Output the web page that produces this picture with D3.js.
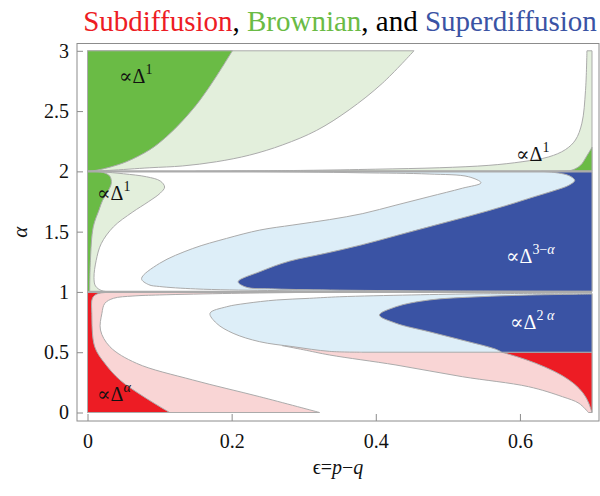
<!DOCTYPE html>
<html>
<head>
<meta charset="utf-8">
<script src="https://cdn.jsdelivr.net/npm/d3@7/dist/d3.min.js"></script>
<style>
  html, body { margin: 0; padding: 0; background: #fff; }
  svg { display: block; }
  svg text { font-family: "Liberation Serif", "DejaVu Serif", "Noto Serif", Tinos, Times, serif; }
</style>
</head>
<body>
<svg id="chart" width="600" height="496"></svg>
<script>
// ---- axis ticks ----
const xTicks = [0, 0.2, 0.4, 0.6];
const yTicks = [0, 0.5, 1, 1.5, 2, 2.5, 3];

// ---- phase boundaries, [epsilon, alpha] ----
// band 2 <= alpha <= 3
const brownTopOuter = [[0,2.0],[0.03,2.008],[0.0865,2.03],[0.132,2.045],[0.179,2.08],[0.225,2.135],[0.271,2.22],[0.318,2.34],[0.363,2.51],[0.409,2.73],[0.453,3.0]];
const brownTopInner = [[0,2.0],[0.013,2.01],[0.031,2.035],[0.054,2.08],[0.0865,2.18],[0.110,2.29],[0.132,2.42],[0.156,2.59],[0.179,2.79],[0.201,3.0]];
const brownSpikeEdge = [[0.15,2.0],[0.3,2.008],[0.4,2.018],[0.488,2.03],[0.557,2.05],[0.603,2.08],[0.640,2.12],[0.663,2.18],[0.677,2.26],[0.686,2.40],[0.691,2.67],[0.693,3.0]];
const brownSpikeCore = [[0.655,2.0],[0.672,2.01],[0.684,2.05],[0.692,2.12],[0.7,2.2]];

// band 1 <= alpha <= 2
const brownMidEdge = [[0.04,1.0],[0.02,1.01],[0.011,1.05],[0.009,1.12],[0.012,1.26],[0.019,1.40],[0.036,1.54],[0.062,1.66],[0.085,1.75],[0.101,1.82],[0.107,1.87],[0.101,1.92],[0.082,1.955],[0.05,1.98],[0.02,1.996],[0,2.0]];
const brownMidCore = [[0.003,1.0],[0.004,1.26],[0.008,1.54],[0.016,1.68],[0.021,1.76],[0.027,1.82],[0.033,1.90],[0.031,1.96],[0.022,1.99],[0.008,2.0]];
const superMidOuter = [[0.7,1.002],[0.4,1.005],[0.25,1.012],[0.15,1.025],[0.1,1.045],[0.085,1.06],[0.075,1.11],[0.1,1.237],[0.146,1.36],[0.193,1.444],[0.239,1.513],[0.285,1.555],[0.336,1.6],[0.382,1.65],[0.428,1.72],[0.474,1.79],[0.52,1.86],[0.546,1.905],[0.529,1.955],[0.474,1.978],[0.382,1.988],[0.3,1.995],[0.2,2.0]];
const superMidCore = [[0.7,1.005],[0.5,1.008],[0.35,1.015],[0.26,1.025],[0.22,1.04],[0.209,1.085],[0.24,1.17],[0.28,1.255],[0.33,1.32],[0.38,1.39],[0.43,1.47],[0.48,1.55],[0.53,1.63],[0.58,1.715],[0.62,1.79],[0.65,1.845],[0.668,1.885],[0.676,1.925],[0.668,1.965],[0.649,1.99],[0.63,2.0]];

// band 0 <= alpha <= 1
const subLeftEdge = [[0.322,0],[0.239,0.131],[0.146,0.27],[0.068,0.408],[0.031,0.546],[0.018,0.684],[0.02,0.823],[0.024,0.905],[0.036,0.947],[0.063,0.966],[0.1,0.975],[0.2,0.988],[0.3,0.996],[0.36,1.0]];
const subLeftCore = [[0.114,0],[0.078,0.131],[0.045,0.27],[0.024,0.408],[0.010,0.546],[0.006,0.823],[0.007,0.95],[0.014,0.985],[0.035,0.998],[0.04,1.0]];
const subRightEdge = [[0.27,0.555],[0.3,0.52],[0.336,0.477],[0.428,0.394],[0.52,0.297],[0.612,0.214],[0.659,0.131],[0.682,0.076],[0.695,0.0]];
const subRightCore = [[0.575,0.5],[0.6,0.455],[0.622,0.408],[0.648,0.34],[0.668,0.27],[0.682,0.2],[0.691,0.131],[0.696,0.07],[0.698,0.035],[0.7,0.0]];
const superLowOuter = [[0.7,0.99],[0.55,0.985],[0.45,0.975],[0.35,0.96],[0.308,0.947],[0.262,0.933],[0.22,0.905],[0.193,0.877],[0.17,0.823],[0.179,0.74],[0.202,0.657],[0.239,0.587],[0.285,0.546],[0.336,0.507],[0.38,0.5]];
const superLowCore = [[0.575,0.5],[0.566,0.526],[0.52,0.60],[0.474,0.67],[0.428,0.74],[0.405,0.808],[0.428,0.877],[0.474,0.933],[0.543,0.96],[0.612,0.974],[0.695,0.982],[0.7,0.982]];

// ---- colours ----
const C = {
  green: "#6abb45", greenLight: "#e3efdc",
  blue: "#3a53a4", blueLight: "#ddeef8",
  red: "#ed1c24", redLight: "#f9d5d5",
  edge: "#ababab", frame: "#8c8c8c"
};

const svg = d3.select("#chart");

const x = d3.scaleLinear().domain([0, 0.7]).range([87.5, 592]);
const y = d3.scaleLinear().domain([0, 3]).range([412.5, 50.8]);

const frame = { left: 77, right: 599, top: 43.5, bottom: 421 };

const smooth = d3.line()
  .x(d => x(d[0])).y(d => y(d[1]))
  .curve(d3.curveCatmullRom.alpha(0.5));

// boundary curve followed by straight edges back to its start
function region(boundary, corners) {
  let p = smooth(boundary);
  corners.forEach(c => { p += "L" + x(c[0]) + "," + y(c[1]); });
  return p + "Z";
}

const regions = [
  // alpha in [2,3]
  { b: brownTopOuter,  c: [[0,3]],             fill: C.greenLight },
  { b: brownSpikeEdge, c: [[0.7,3],[0.7,2]],   fill: C.greenLight },
  { b: brownTopInner,  c: [[0,3]],             fill: C.green },
  { b: brownSpikeCore, c: [[0.7,2]],           fill: C.green },
  // alpha in [1,2]
  { b: brownMidEdge,   c: [[0,1]],             fill: C.greenLight },
  { b: brownMidCore,   c: [[0,2],[0,1]],       fill: C.green },
  { b: superMidOuter,  c: [[0.7,2]],           fill: C.blueLight },
  { b: superMidCore,   c: [[0.7,2]],           fill: C.blue },
  // alpha in [0,1]
  { b: subLeftEdge,    c: [[0,1],[0,0]],       fill: C.redLight },
  { b: subRightEdge,   c: [[0.7,0],[0.7,0.5]], fill: C.redLight },
  { b: superLowOuter,  c: [[0.7,0.5]],         fill: C.blueLight },
  { b: subLeftCore,    c: [[0,1],[0,0]],       fill: C.red },
  { b: subRightCore,   c: [[0.7,0.5]],         fill: C.red },
  { b: superLowCore,   c: [[0.7,0.5]],         fill: C.blue }
];

const plot = svg.append("g");
plot.selectAll("path.region")
  .data(regions)
  .join("path")
  .attr("class", "region")
  .attr("d", d => region(d.b, d.c))
  .attr("fill", d => d.fill)
  .attr("stroke", C.edge)
  .attr("stroke-width", 1)
  .attr("stroke-linejoin", "round");

// band separators at alpha = 1 and alpha = 2
[1, 2].forEach(a => {
  plot.append("line")
    .attr("x1", x(0)).attr("x2", x(0.7))
    .attr("y1", y(a)).attr("y2", y(a))
    .attr("stroke", C.edge).attr("stroke-width", 2.2);
});

// ---- frame ----
svg.append("rect")
  .attr("x", frame.left).attr("y", frame.top)
  .attr("width", frame.right - frame.left).attr("height", frame.bottom - frame.top)
  .attr("fill", "none").attr("stroke", C.frame).attr("stroke-width", 1);

const yAxis = svg.append("g")
  .attr("transform", `translate(${frame.left},0)`)
  .call(d3.axisLeft(y).tickValues(yTicks).tickSize(-6).tickPadding(8)
        .tickFormat(d3.format("~g")));
const xAxis = svg.append("g")
  .attr("transform", `translate(0,${frame.bottom})`)
  .call(d3.axisBottom(x).tickValues(xTicks).tickSize(-7).tickPadding(13)
        .tickFormat(d3.format("~g")));

[yAxis, xAxis].forEach(g => {
  g.attr("font-family", null).attr("font-size", null);
  g.select(".domain").remove();
  g.selectAll(".tick line").attr("stroke", C.frame);
  g.selectAll(".tick text")
    .attr("fill", "#111")
    .attr("font-size", 20);
});

// ---- axis titles ----
svg.append("text")
  .attr("transform", `translate(27,${(frame.top + frame.bottom) / 2}) rotate(-90)`)
  .attr("text-anchor", "middle")
  .attr("font-size", 21).attr("font-style", "italic")
  .attr("fill", "#111")
  .text("α");

const xt = svg.append("text")
  .attr("x", (frame.left + frame.right) / 2).attr("y", 474)
  .attr("text-anchor", "middle")
  .attr("font-size", 20)
  .attr("fill", "#111");
xt.append("tspan").text("ϵ=");
xt.append("tspan").attr("font-style", "italic").text("p");
xt.append("tspan").text("−");
xt.append("tspan").attr("font-style", "italic").text("q");

// ---- title ----
const titleParts = [
  { t: "Subdiffusion", c: C.red },
  { t: ", ", c: "#000" },
  { t: "Brownian", c: C.green },
  { t: ", and ", c: "#000" },
  { t: "Superdiffusion", c: C.blue }
];
const title = svg.append("text")
  .attr("x", (frame.left + frame.right) / 2 + 2).attr("y", 31)
  .attr("text-anchor", "middle")
  .attr("font-size", 29);
title.selectAll("tspan").data(titleParts).join("tspan")
  .attr("fill", d => d.c).text(d => d.t);

// ---- scaling-law annotations ----
const notes = [
  { x: 119, y: 83,    base: "1",  tail: "",  color: "#111" },
  { x: 97,  y: 200,   base: "1",  tail: "",  color: "#111" },
  { x: 516, y: 160.5, base: "1",  tail: "",  color: "#111" },
  { x: 506, y: 263,   base: "3−", tail: "α", color: "#fff" },
  { x: 510, y: 329,   base: "2 ", tail: "α", color: "#fff" },
  { x: 97,  y: 401,   base: "",   tail: "α", color: "#111" }
];
notes.forEach(n => {
  const t = svg.append("text")
    .attr("x", n.x).attr("y", n.y)
    .attr("font-size", 20)
    .attr("fill", n.color);
  t.append("tspan").text("∝Δ");
  const sup = t.append("tspan").attr("dy", -9).attr("font-size", 14);
  if (n.base) sup.append("tspan").text(n.base);
  if (n.tail) sup.append("tspan").attr("font-style", "italic").text(n.tail);
});
</script>
</body>
</html>
